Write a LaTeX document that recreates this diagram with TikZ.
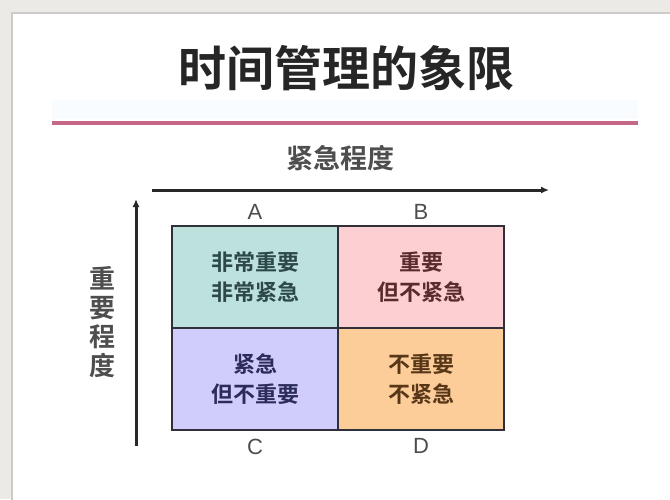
\documentclass[tikz,border=0pt]{standalone}
\usepackage{fontspec}
\newfontfamily\cjk{Noto Sans CJK SC}
\newfontfamily\cjkb{Noto Sans CJK SC Bold}
\newfontfamily\latin{Liberation Sans}
\usetikzlibrary{arrows.meta,positioning,calc}
\definecolor{paper}{RGB}{236,234,231}
\definecolor{rim}{RGB}{205,203,200}
\definecolor{rule}{RGB}{196,104,134}
\definecolor{band}{RGB}{249,252,254}
\definecolor{cellA}{RGB}{189,226,222}
\definecolor{cellB}{RGB}{252,207,211}
\definecolor{cellC}{RGB}{208,204,251}
\definecolor{cellD}{RGB}{252,205,152}
\definecolor{inkA}{RGB}{45,72,72}
\definecolor{inkB}{RGB}{88,44,44}
\definecolor{inkC}{RGB}{44,44,88}
\definecolor{inkD}{RGB}{88,55,25}
\definecolor{frame}{RGB}{48,48,58}
\definecolor{axis}{RGB}{40,40,40}
\definecolor{soft}{RGB}{78,78,78}

\begin{document}
\begin{tikzpicture}
[x=1pt,y=-1pt,
cell/.style={shape=rectangle,draw=frame,line width=2.5pt,inner sep=0pt,
minimum width=166pt,minimum height=102pt,align=center,
font=\cjkb\fontsize{22}{30}\selectfont},
lab/.style={text=soft,font=\latin\fontsize{22}{22}\selectfont},
myaxis/.style={draw=axis,line width=3pt,-{Latex[length=8pt,width=7pt]}}]
\useasboundingbox (0,0) rectangle (670,499);
%%%%%%%%%%
%%%%% page
\fill[paper] (0,0) rectangle (670,499);
\fill[rim] (11,12) rectangle (672,505);
\fill[white] (13,14) rectangle (672,505);
\fill[band] (52,100) rectangle (638,119);
\draw[rule,line width=3.5pt] (52,123) -- (638,123);
%% title
\node (title) [font=\cjkb\fontsize{48}{48}\selectfont,text=black!85] at (346,68) {时间管理的象限};
%%%%% quadrants
\node (qa) [cell,fill=cellA,text=inkA] at (255,277) {非常重要\\非常紧急};
\node (qb) [cell,fill=cellB,text=inkB] at (421,277) {重要\\但不紧急};
\node (qc) [cell,fill=cellC,text=inkC] at (255,379) {紧急\\但不重要};
\node (qd) [cell,fill=cellD,text=inkD] at (421,379) {不重要\\不紧急};
%% letters
\node (la) [lab,above=2pt of qa] {A};
\node (lb) [lab,above=2pt of qb] {B};
\node (lc) [lab,below=4pt of qc] {C};
\node (ld) [lab,below=4pt of qd] {D};
%%%%% axes
\coordinate (ux0) at (152,190);
\coordinate (ux1) at (549,190);
\coordinate (uy0) at (136,446);
\coordinate (uy1) at (136,199);
\draw[myaxis] (ux0) -- (ux1);
\draw[myaxis] (uy0) -- (uy1);
\node (urgent) [text=soft,font=\cjkb\fontsize{27}{27}\selectfont] at (340,158) {紧急程度};
\node (important) [text=soft,align=center,font=\cjkb\fontsize{26}{29}\selectfont] at (102,322) {重\\要\\程\\度};
\end{tikzpicture}
\end{document}
